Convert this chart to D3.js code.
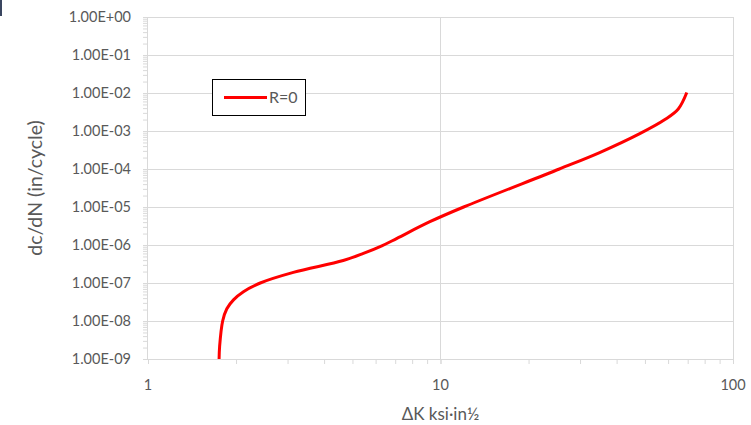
<!DOCTYPE html>
<html><head><meta charset="utf-8">
<script src="https://cdn.jsdelivr.net/npm/d3@7"></script>
<style>body{margin:0;background:#fff}svg{display:block}</style>
</head><body>
<script>
const deltaK = [1.75, 1.757, 1.80, 1.86, 1.96, 2.12, 2.42, 3.14, 4.65, 5.45, 6.3, 7.1, 9.2, 12.0, 25.5, 35.0, 48.0, 58.5, 65.0, 69.5];
const dcdN = [1e-9, 2.1e-9, 1e-8, 2.1e-8, 3.6e-8, 5.9e-8, 1e-7, 1.9e-7, 3.9e-7, 6e-7, 9.5e-7, 1.5e-6, 4.1e-6, 1e-5, 1e-4, 2.7e-4, 8.5e-4, 2.0e-3, 3.8e-3, 1.03e-2];
const xTicks = [1, 10, 100];
const yTicks = [1e-9,1e-8,1e-7,1e-6,1e-5,1e-4,1e-3,1e-2,1e-1,1];
const yTickLabels = ["1.00E-09","1.00E-08","1.00E-07","1.00E-06","1.00E-05","1.00E-04","1.00E-03","1.00E-02","1.00E-01","1.00E+00"];
const seriesName = "R=0";
const xTitle = "ΔK ksi·in½";
const yTitle = "dc/dN (in/cycle)";

const W = 751, H = 425;
const L = 148, R = 733, T = 17, B = 359;
const font = "Lato, 'Open Sans', sans-serif";
const textCol = "#595959", gridCol = "#d9d9d9";

const svg = d3.select("body").append("svg").attr("width", W).attr("height", H);
const x = d3.scaleLog().domain([1, 100]).range([L, R]);
const y = d3.scaleLog().domain([1e-9, 1]).range([B, T]);

// stray mark at top-left (crop artifact)
svg.append("rect").attr("x", 0).attr("y", 0).attr("width", 2).attr("height", 16).attr("fill", "#3a4660");

// horizontal gridlines
svg.append("g").selectAll("line").data(yTicks.filter(d => d > 1e-9)).join("line")
  .attr("x1", L).attr("x2", R).attr("y1", d => y(d)).attr("y2", d => y(d))
  .attr("stroke", gridCol).attr("stroke-width", 1).attr("shape-rendering", "crispEdges");
// vertical gridlines
svg.append("g").selectAll("line").data(xTicks.filter(d => d > 1)).join("line")
  .attr("x1", d => x(d)).attr("x2", d => x(d)).attr("y1", T).attr("y2", B)
  .attr("stroke", gridCol).attr("stroke-width", 1).attr("shape-rendering", "crispEdges");

// minor ticks
const xMinor = [];
for (let dec of [1, 10]) for (let k = 1; k <= 10; k++) xMinor.push(dec * k);
const yMinor = [];
for (let e = -9; e < 0; e++) for (let k = 1; k <= 10; k++) yMinor.push(k * Math.pow(10, e));

// x axis
const xAxis = d3.axisBottom(x).tickValues(xMinor).tickSize(5).tickFormat(() => "");
const gx = svg.append("g").attr("transform", `translate(0,${B})`).call(xAxis);
gx.select(".domain").attr("stroke", gridCol).attr("d", `M${L},0.5H${R}`);
gx.selectAll(".tick line").attr("stroke", gridCol);
svg.append("g").selectAll("text").data(xTicks).join("text")
  .attr("x", d => x(d)).attr("y", 390).attr("text-anchor", "middle")
  .attr("font-family", font).attr("font-size", 14.5).attr("fill", textCol)
  .text(d => d);

// y axis
const yAxis = d3.axisLeft(y).tickValues(yMinor).tickSize(5).tickFormat(() => "");
const gy = svg.append("g").attr("transform", `translate(${L},0)`).call(yAxis);
gy.select(".domain").attr("stroke", gridCol).attr("d", `M-0.5,${T}V${B}`);
gy.selectAll(".tick line").attr("stroke", gridCol);
svg.append("g").selectAll("text").data(yTicks).join("text")
  .attr("x", 131).attr("y", d => y(d)).attr("dy", "0.36em").attr("text-anchor", "end")
  .attr("font-family", font).attr("font-size", 14.5).attr("fill", textCol)
  .text((d, i) => yTickLabels[i]);

// titles
svg.append("text").attr("x", (L + R) / 2).attr("y", 420).attr("text-anchor", "middle")
  .attr("font-family", font).attr("font-size", 17).attr("fill", textCol).text(xTitle);
svg.append("text").attr("transform", `translate(41.5,${(T + B) / 2}) rotate(-90)`).attr("text-anchor", "middle")
  .attr("font-family", font).attr("font-size", 19.5).attr("fill", textCol).text(yTitle);

// series
const data = deltaK.map((d, i) => [d, dcdN[i]]);
const line = d3.line().x(d => x(d[0])).y(d => y(d[1])).curve(d3.curveCatmullRom.alpha(0.5));
svg.append("path").datum(data).attr("d", line).attr("fill", "none")
  .attr("stroke", "#ff0000").attr("stroke-width", 3).attr("stroke-linejoin", "round");

// legend
const lg = svg.append("g");
lg.append("rect").attr("x", 212.5).attr("y", 79.5).attr("width", 93).attr("height", 36)
  .attr("fill", "#fff").attr("stroke", "#000").attr("stroke-width", 1);
lg.append("line").attr("x1", 224).attr("x2", 267).attr("y1", 97.5).attr("y2", 97.5)
  .attr("stroke", "#ff0000").attr("stroke-width", 3);
lg.append("text").attr("x", 269).attr("y", 97.5).attr("dy", "0.36em")
  .attr("font-family", font).attr("font-size", 16).attr("fill", textCol).text(seriesName);
</script>
</body></html>
